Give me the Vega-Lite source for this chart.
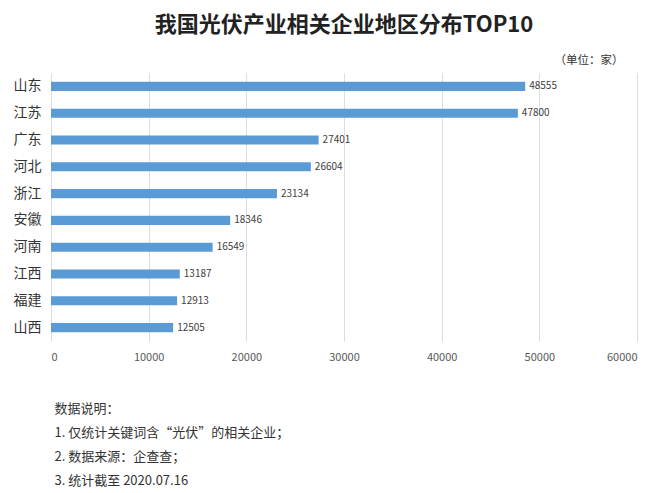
{
  "$schema": "https://vega.github.io/schema/vega-lite/v6.json",
  "autosize": "none",
  "width": 586,
  "height": 268,
  "padding": {"left": 51, "top": 73, "right": 23, "bottom": 152},
  "background": "white",
  "config": {
    "font": "Noto Sans CJK SC",
    "view": {"stroke": null}
  },
  "title": {
    "text": "我国光伏产业相关企业地区分布TOP10",
    "fontSize": 22,
    "fontWeight": "bold",
    "color": "#222222",
    "anchor": "middle",
    "offset": 17
  },
  "data": {
    "values": [
      {"region": "山东", "count": 48555},
      {"region": "江苏", "count": 47800},
      {"region": "广东", "count": 27401},
      {"region": "河北", "count": 26604},
      {"region": "浙江", "count": 23134},
      {"region": "安徽", "count": 18346},
      {"region": "河南", "count": 16549},
      {"region": "江西", "count": 13187},
      {"region": "福建", "count": 12913},
      {"region": "山西", "count": 12505}
    ]
  },
  "encoding": {
    "y": {
      "field": "region",
      "type": "nominal",
      "sort": null,
      "scale": {"paddingInner": 0.66, "paddingOuter": 0.33},
      "axis": {
        "title": null,
        "ticks": false,
        "domain": false,
        "labelFontSize": 14,
        "labelColor": "#333333",
        "labelPadding": 10
      }
    }
  },
  "layer": [
    {
      "mark": {"type": "bar", "color": "#5B9BD5"},
      "encoding": {
        "x": {
          "field": "count",
          "type": "quantitative",
          "scale": {"domain": [0, 60000], "nice": false},
          "axis": {
            "orient": "bottom",
            "values": [0, 10000, 20000, 30000, 40000, 50000, 60000],
            "format": "d",
            "domain": false,
            "ticks": false,
            "grid": true,
            "gridColor": "#dddddd",
            "labelFontSize": 11,
            "labelColor": "#595959",
            "labelPadding": 10,
            "title": ["数据说明：", "1. 仅统计关键词含“光伏”的相关企业；", "2. 数据来源：企查查；", "3. 统计截至 2020.07.16"],
            "titleAnchor": "start",
            "titleAlign": "left",
            "titleBaseline": "top",
            "titleFontSize": 13,
            "titleFontWeight": "normal",
            "titleColor": "#333333",
            "titleLineHeight": 24,
            "titlePadding": 40,
            "titleX": 3
          }
        }
      }
    },
    {
      "mark": {"type": "text", "align": "left", "dx": 4, "fontSize": 10, "color": "#404040"},
      "encoding": {
        "x": {
          "field": "count",
          "type": "quantitative",
          "axis": {
            "orient": "top",
            "labels": false,
            "ticks": false,
            "domain": false,
            "grid": false,
            "title": "（单位：家）",
            "titleAnchor": "end",
            "titleAlign": "right",
            "titleX": 572,
            "titleFontSize": 11.5,
            "titleFontWeight": "normal",
            "titleColor": "#333333",
            "titlePadding": 8
          }
        },
        "text": {"field": "count", "type": "quantitative", "format": "d"}
      }
    }
  ],
  "resolve": {"axis": {"x": "independent"}}
}
